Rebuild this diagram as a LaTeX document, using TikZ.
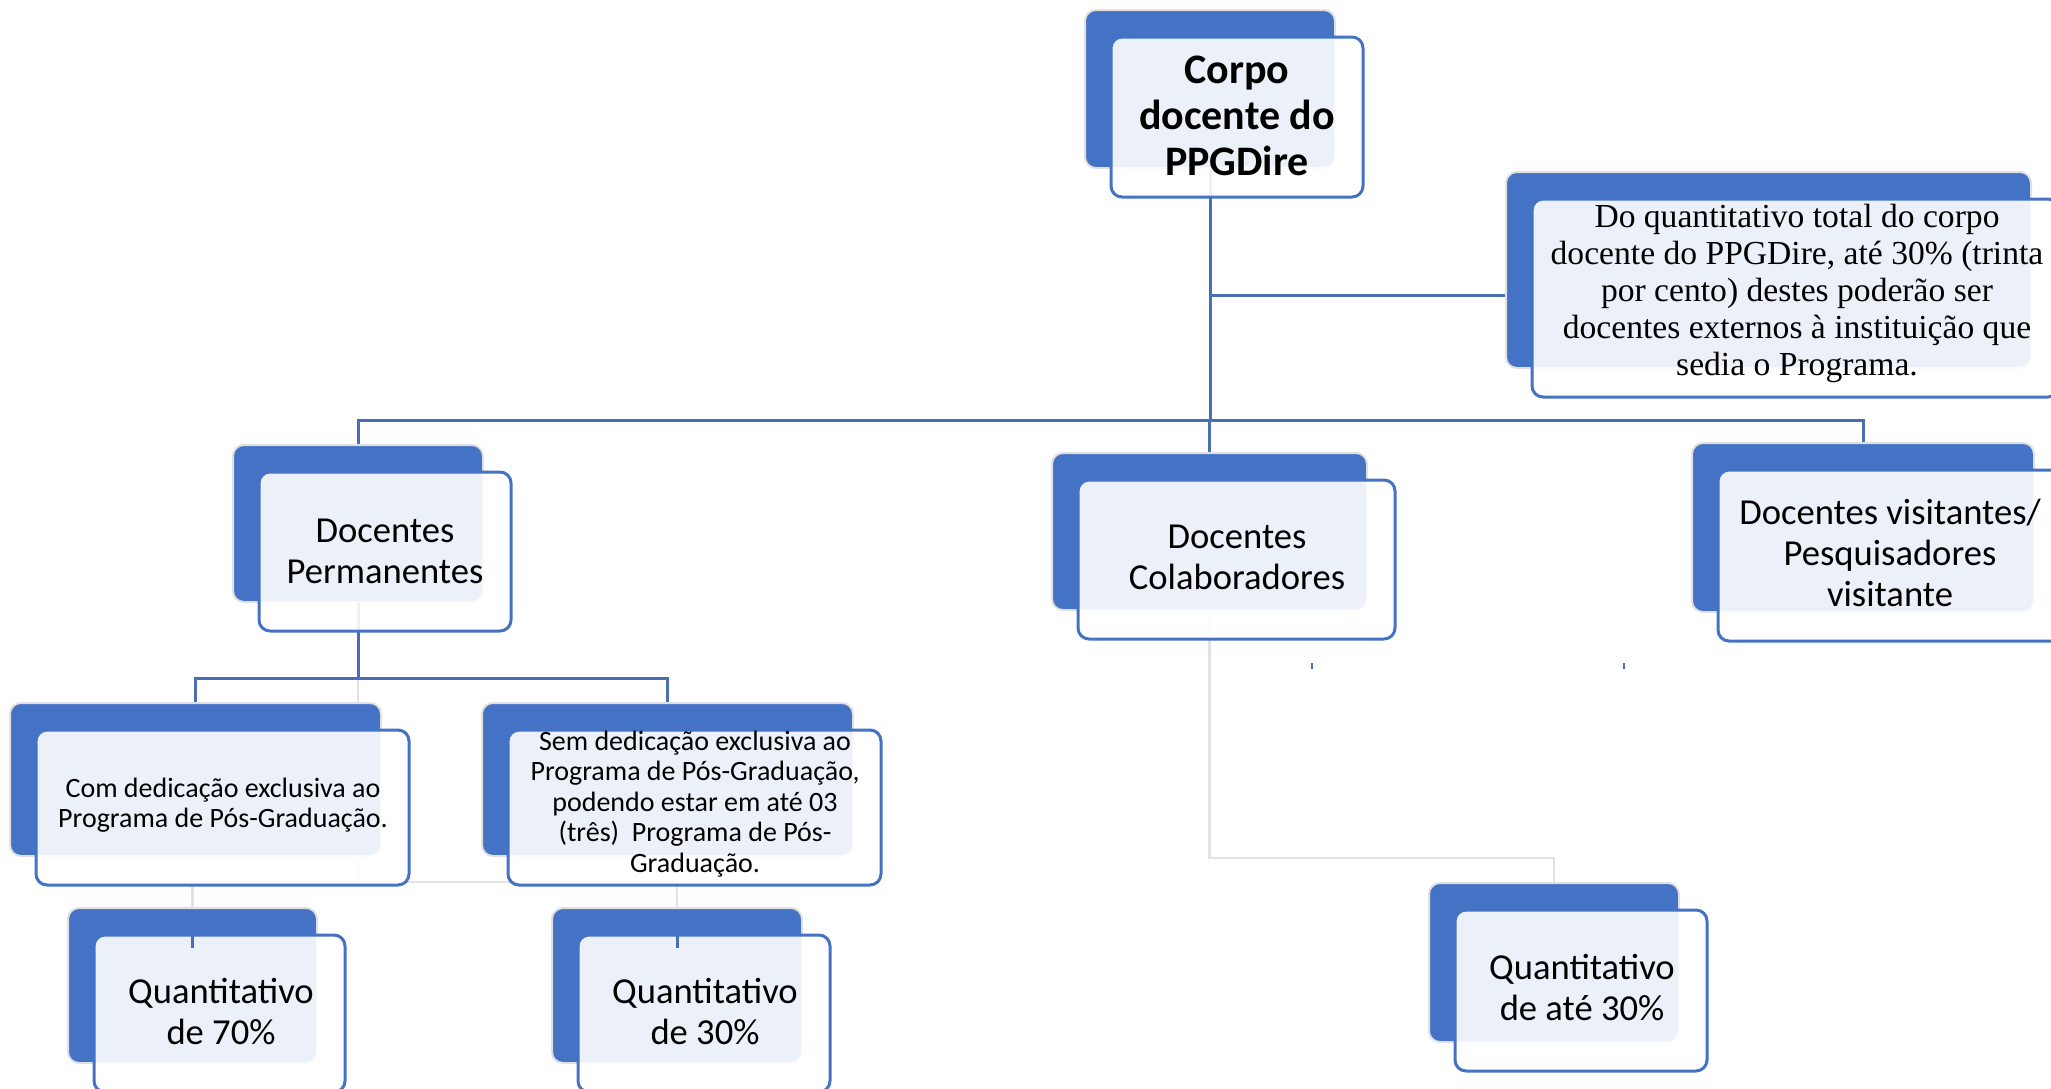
\documentclass[tikz,border=0pt]{standalone}
\usepackage{fontspec}
\setmainfont{Carlito}
\newfontfamily\serifcam{Liberation Serif}
\pgfdeclarelayer{paper}
\pgfdeclarelayer{bg}
\pgfsetlayers{paper,bg,main}
\definecolor{dkblue}{HTML}{4472C4}
\definecolor{lnblue}{HTML}{4A6EB5}
\definecolor{lngray}{HTML}{E2E2E2}
\tikzset{
  darkbox/.style={fill=dkblue, draw=black!12, line width=1pt, rounded corners=5.5pt, inner sep=0pt, outer sep=0pt},
  lightbox/.style={fill=white, fill opacity=0.9, draw=dkblue, draw opacity=1, line width=1.5pt, rounded corners=5.5pt, inner sep=0pt, outer sep=0pt},
  bline/.style={draw=lnblue, line width=1.5pt},
  gline/.style={draw=lngray, line width=1.4pt},
  tick/.style={draw=lnblue, line width=1.5pt},
  smalltick/.style={draw=lnblue, line width=0.6pt},
  boxtext/.style={align=center, inner sep=0pt, font=\fontsize{18.3}{20.5}\selectfont},
  smalltext/.style={align=center, inner sep=0pt, font=\fontsize{14}{15.2}\selectfont},
  toptext/.style={align=center, inner sep=0pt, font=\bfseries\fontsize{21}{23}\selectfont},
  serftext/.style={align=center, inner sep=0pt, font=\serifcam\fontsize{16.8}{18.5}\selectfont},
}
\newcommand{\pairbox}[5]{%
  \pgfmathsetmacro{\bxw}{(#4-#2)*0.5}%
  \pgfmathsetmacro{\bxh}{(#5-#3)*0.5}%
  \pgfmathsetmacro{\lxw}{(#4-#2+2)*0.5}%
  \pgfmathsetmacro{\lxh}{(#5-#3+2)*0.5}%
  \node[darkbox, minimum width=\bxw pt, minimum height=\bxh pt] (#1D) at ({(#2+#4)/2},{(#3+#5)/2}) {};
  \node[lightbox, minimum width=\lxw pt, minimum height=\lxh pt] (#1L) at ({(#2+#4)/2+27},{(#3+#5)/2+28}) {};
}
\begin{document}
\begin{tikzpicture}[x=0.5pt, y=-0.5pt]
\useasboundingbox (0,0) rectangle (2051,1088);
\begin{pgfonlayer}{paper}
  \fill[white] (0,0) rectangle (2051,1088);
\end{pgfonlayer}
\clip (0,0) rectangle (2051,1088);

% boxes
\pairbox{top}{1085}{10}{1335}{168}
\pairbox{side}{1506}{172}{2031}{368}
\pairbox{perm}{233}{445}{483}{602}
\pairbox{col}{1052}{453}{1367}{610}
\pairbox{vis}{1692}{443}{2034}{612}
\pairbox{com}{10}{703}{381}{856}
\pairbox{sem}{482}{703}{853}{856}
\pairbox{qa}{68}{908}{317}{1063}
\pairbox{qb}{552}{908}{802}{1063}
\pairbox{qc}{1429}{883}{1679}{1042}

% texts
\node[toptext] (topT) at (1237,116) {Corpo\\docente do\\PPGDire};
\node[serftext] (sideT) at (1797,293) {Do quantitativo total do corpo\\docente do PPGDire, até 30\% (trinta\\por cento) destes poderão ser\\docentes externos à instituição que\\sedia o Programa.};
\node[boxtext] (permT) at (385,551) {Docentes\\Permanentes};
\node[boxtext] (colT) at (1237,557) {Docentes\\Colaboradores};
\node[boxtext] (visT) at (1890,553) {Docentes visitantes/\\Pesquisadores\\visitante};
\node[smalltext] (comT) at (223,805) {Com dedicação exclusiva ao\\Programa de Pós-Graduação.};
\node[smalltext] (semT) at (695,804) {Sem dedicação exclusiva ao\\Programa de Pós-Graduação,\\podendo estar em até 03\\(três)\ \ Programa de Pós-\\Graduação.};
\node[boxtext] (qaT) at (221,1011) {Quantitativo\\de 70\%};
\node[boxtext] (qbT) at (705,1011) {Quantitativo\\de 30\%};
\node[boxtext] (qcT) at (1582,987) {Quantitativo\\de até 30\%};

% connectors (behind the boxes)
\begin{pgfonlayer}{bg}
  \coordinate (busY) at (0,420);
  \coordinate (sideY) at (0,295);
  \coordinate (permY) at (0,678);
  \coordinate (grayY) at (0,882);
  \coordinate (colY) at (0,858);
  \draw[gline] (permD.center) -- (permD.center |- grayY);
  \draw[gline] (qaD.north) -- (qaD.center |- grayY) -- (qbD.center |- grayY) -- (qbD.north);
  \draw[gline] (colD.center) -- (colD.center |- colY) -- (qcD.center |- colY) -- (qcD.north);
  \draw[bline] (topD.center) -- (topD.center |- busY);
  \draw[bline] (topD.center |- sideY) -- (sideD.center |- sideY);
  \draw[bline] (permD.north) -- (permD.center |- busY) -- (visD.center |- busY) -- (visD.north);
  \draw[bline] (colD.center |- busY) -- (colD.north);
  \draw[bline] (permD.center) -- (permD.center |- permY);
  \draw[bline] (comD.north) -- (comD.center |- permY) -- (semD.center |- permY) -- (semD.north);
\end{pgfonlayer}

% small marks
\draw[tick] (qaD.center |- qaL.north) -- ++(0,13);
\draw[tick] (qbD.center |- qbL.north) -- ++(0,13);
\coordinate (mk1) at (1312,663);
\coordinate (mk2) at (1624,663);
\draw[smalltick] (mk1) -- ++(0,6);
\draw[smalltick] (mk2) -- ++(0,6);
\end{tikzpicture}
\end{document}
